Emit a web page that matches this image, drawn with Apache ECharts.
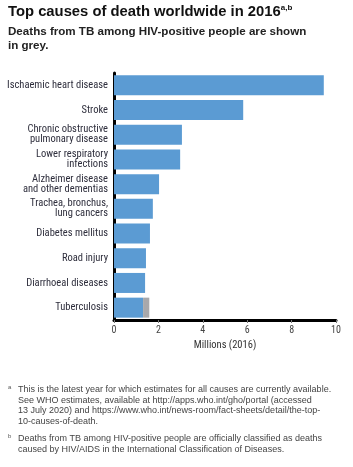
<!DOCTYPE html>
<html>
<head>
<meta charset="utf-8">
<script src="https://cdn.jsdelivr.net/npm/echarts@6/dist/echarts.min.js"></script>
<style>
  html, body { margin: 0; padding: 0; background: #fff; }
  #chart { width: 353px; height: 467px; }
</style>
</head>
<body>
<div id="chart"></div>
<script>
var causes = [
    'Ischaemic heart disease',
    'Stroke',
    'Chronic obstructive\npulmonary disease',
    'Lower respiratory\ninfections',
    'Alzheimer disease\nand other dementias',
    'Trachea, bronchus,\nlung cancers',
    'Diabetes mellitus',
    'Road injury',
    'Diarrhoeal diseases',
    'Tuberculosis'
];
// millions of deaths, 2016
var deaths = [9.45, 5.82, 3.06, 2.98, 2.03, 1.75, 1.62, 1.44, 1.40, 1.31];
var tbHiv = [0, 0, 0, 0, 0, 0, 0, 0, 0, 0.28];
var xTicks = [0, 2, 4, 6, 8, 10];

var narrow = '"Roboto Condensed", "Noto Sans Condensed", "Liberation Sans", sans-serif';
var plain = '"Liberation Sans", Arial, sans-serif';

var noteA = 'This is the latest year for which estimates for all causes are currently available.\n' +
    'See WHO estimates, available at http://apps.who.int/gho/portal (accessed\n' +
    '13 July 2020) and https://www.who.int/news-room/fact-sheets/detail/the-top-\n' +
    '10-causes-of-death.';
var noteB = 'Deaths from TB among HIV-positive people are officially classified as deaths\n' +
    'caused by HIV/AIDS in the International Classification of Diseases.';

var myChart = echarts.init(document.getElementById('chart'), null, { renderer: 'canvas' });
var option = {
    animation: false,
    title: [
        {
            text: 'Top causes of death worldwide in 2016{sup|a,b}',
            left: 8, top: 4, padding: 0,
            textStyle: {
                fontFamily: plain, fontSize: 14.8, fontWeight: 'bold', color: '#111',
                rich: { sup: { fontFamily: plain, fontSize: 8, fontWeight: 'bold', color: '#111', verticalAlign: 'top', padding: [0, 0, 7, 0] } }
            }
        },
        {
            text: 'Deaths from TB among HIV-positive people are shown\nin grey.',
            left: 8, top: 25, padding: 0,
            textStyle: { fontFamily: plain, fontSize: 11.6, fontWeight: 'bold', color: '#222', lineHeight: 14 }
        },
        {
            text: 'a', left: 8, top: 384, padding: 0,
            textStyle: { fontFamily: plain, fontSize: 6, fontWeight: 'normal', color: '#555' }
        },
        {
            text: noteA, left: 18, top: 384, padding: 0,
            textStyle: { fontFamily: plain, fontSize: 9, fontWeight: 'normal', color: '#444', lineHeight: 10.8 }
        },
        {
            text: 'b', left: 8, top: 433, padding: 0,
            textStyle: { fontFamily: plain, fontSize: 6, fontWeight: 'normal', color: '#555' }
        },
        {
            text: noteB, left: 18, top: 433, padding: 0,
            textStyle: { fontFamily: plain, fontSize: 9, fontWeight: 'normal', color: '#444', lineHeight: 10.8 }
        }
    ],
    grid: { left: 114, right: 17, top: 73, bottom: 147, containLabel: false, outerBoundsMode: 'none' },
    xAxis: {
        type: 'value', min: xTicks[0], max: xTicks[xTicks.length - 1], interval: 2,
        name: 'Millions (2016)', nameLocation: 'middle', nameGap: 17,
        nameTextStyle: { fontFamily: narrow, fontSize: 10.5, color: '#333' },
        axisLine: { show: true, lineStyle: { color: '#000', width: 3 } },
        axisTick: { show: true, length: 3, lineStyle: { color: '#777' } },
        axisLabel: { fontFamily: narrow, fontSize: 10, color: '#444', margin: 5 },
        splitLine: { show: false }
    },
    yAxis: {
        type: 'category', data: causes, inverse: true,
        axisLine: { show: true, lineStyle: { color: '#000', width: 3 } },
        axisTick: { show: false },
        axisLabel: { fontFamily: narrow, fontSize: 10.5, color: '#2e2e3c', lineHeight: 10, margin: 6 }
    },
    series: [
        {
            type: 'bar', stack: 'tb', data: deaths, barCategoryGap: '19%',
            itemStyle: { color: '#5b9bd3' }
        },
        {
            type: 'bar', stack: 'tb', data: tbHiv,
            itemStyle: { color: '#a8a8ab' }
        }
    ]
};
option && myChart.setOption(option);
</script>
</body>
</html>
